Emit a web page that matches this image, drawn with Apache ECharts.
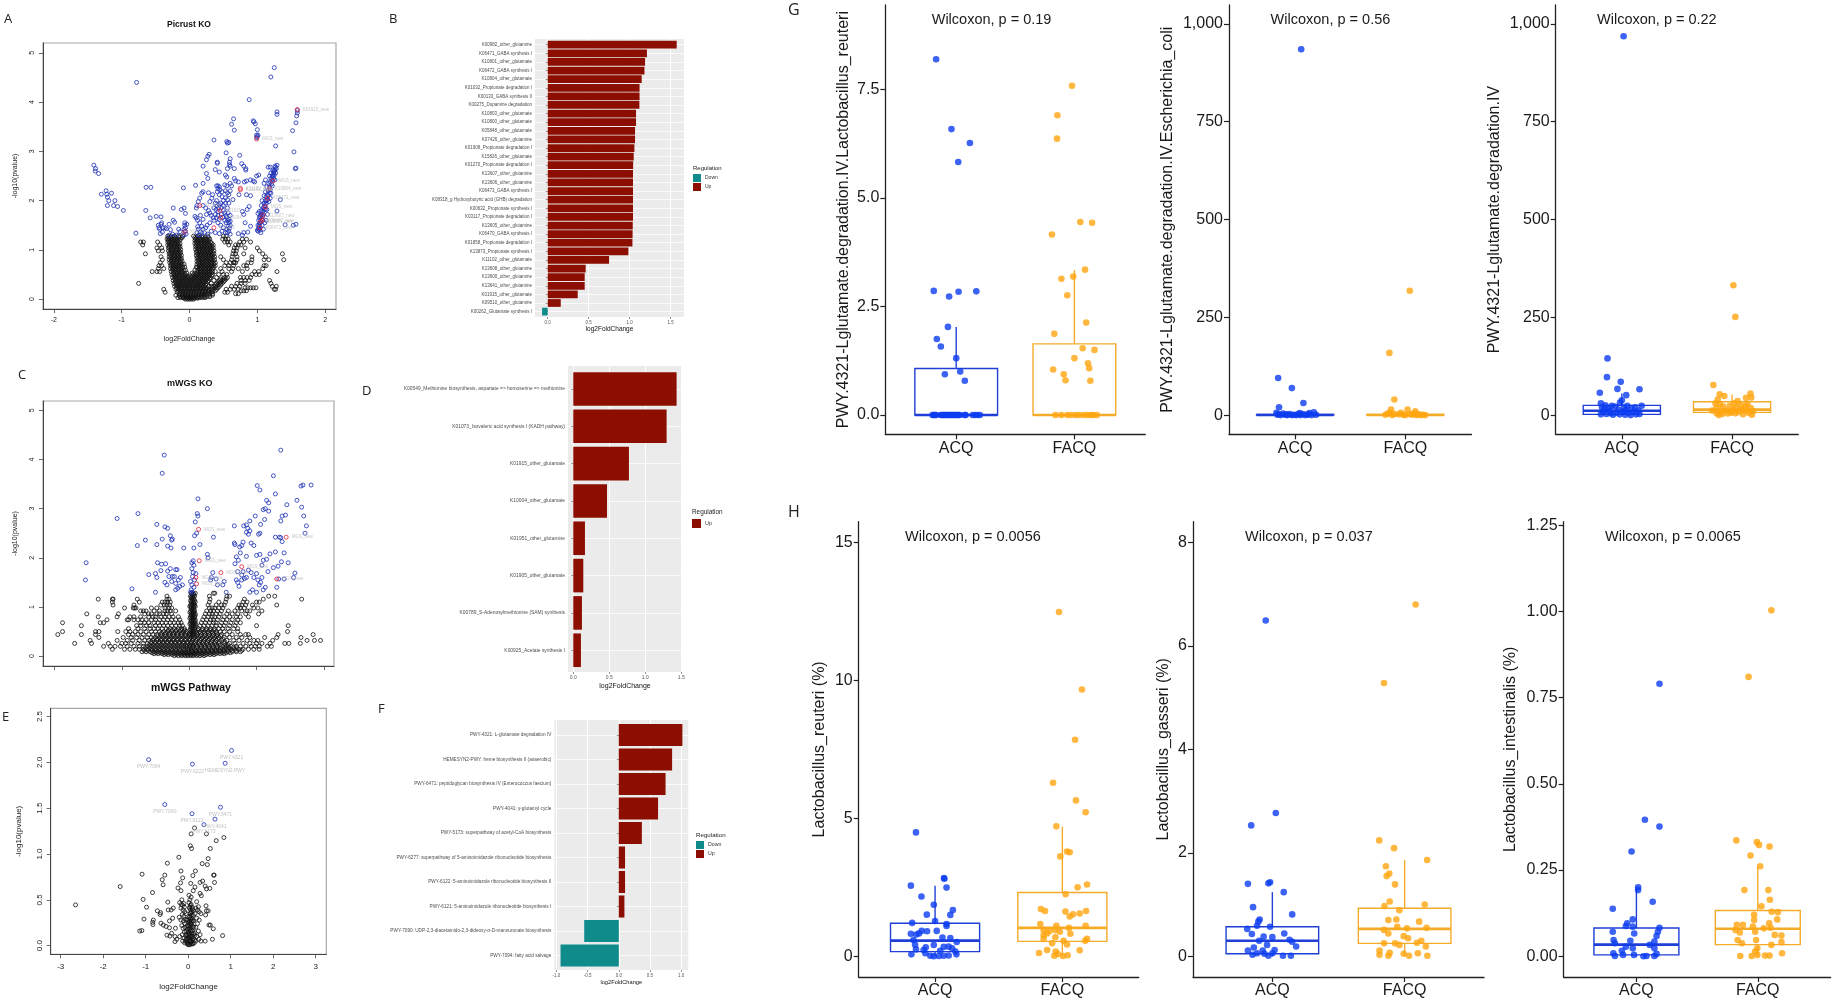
<!DOCTYPE html>
<html><head><meta charset="utf-8">
<style>html,body{margin:0;padding:0;background:#fff}#c{width:1834px;height:1004px}</style>
<script src="https://cdn.jsdelivr.net/npm/echarts@6/dist/echarts.min.js"></script>
</head><body><div id="c"></div>
<script>
// ---------- bar panels ----------
const bCats=["K00982_other_glutamine","K06471_GABA synthesis I","K10801_other_glutamate","K06472_GABA synthesis I","K10804_other_glutamate","K01032_Propionate degradation I","K00133_GABA synthesis II","K00275_Dopamine degradation","K10803_other_glutamate","K10800_other_glutamate","K05848_other_glutamate","K07426_other_glutamine","K01908_Propionate degradation I","K15826_other_glutamate","K01270_Propionate degradation I","K13607_other_glutamine","K13606_other_glutamine","K06473_GABA synthesis I","K08318_g Hydroxybutyric acid (GHB) degradation","K00632_Propionate synthesis I","K03117_Propionate degradation I","K13605_other_glutamine","K06470_GABA synthesis I","K01858_Propionate degradation I","K13873_Propionate synthesis I","K11102_other_glutamate","K13608_other_glutamine","K13600_other_glutamine","K13641_other_glutamine","K01915_other_glutamate","K09510_other_glutamine","K00262_Glutamate synthesis I"];
const bVals=[1.573,1.21,1.187,1.18,1.146,1.12,1.12,1.118,1.077,1.077,1.065,1.065,1.057,1.049,1.042,1.04,1.04,1.04,1.04,1.04,1.04,1.037,1.035,1.033,.984,.748,.463,.451,.451,.366,.159,-.069];
const dCats=["K00549_Methionine biosynthesis, aspartate => homoserine => methionine","K01073_Isovaleric acid synthesis I (KADH pathway)","K01915_other_glutamate","K10004_other_glutamate","K01951_other_glutamine","K01905_other_glutamate","K00789_S-Adenosylmethionine (SAM) synthesis","K00925_Acetate synthesis I"];
const dVals=[1.435,1.296,.773,.468,.162,.139,.12,.106];
const fCats=["PWY-4321: L-glutamate degradation IV","HEMESYN2-PWY: heme biosynthesis II (anaerobic)","PWY-6471: peptidoglycan biosynthesis IV (Enterococcus faecium)","PWY-4041: γ-glutamyl cycle","PWY-5173: superpathway of acetyl-CoA biosynthesis","PWY-6277: superpathway of 5-aminoimidazole ribonucleotide biosynthesis","PWY-6122: 5-aminoimidazole ribonucleotide biosynthesis II","PWY-6121: 5-aminoimidazole ribonucleotide biosynthesis I","PWY-7090: UDP-2,3-diacetamido-2,3-dideoxy-α-D-mannuronate biosynthesis","PWY-7094: fatty acid salvage"];
const fVals=[1.02,.855,.75,.63,.37,.1,.1,.09,-.555,-.935];

// ---------- volcano A (rows: y, then x values) ----------
const aBlackRows=[
[1.28,-.32,-.27,-.22,-.16,-.1,.06,.12,.19,.27,.5,.54],
[1.22,-.33,-.3,-.26,-.22,-.18,-.13,.09,.13,.17,.21,.25,.3,.49,.53,.57,.78,.84],
[1.16,-.72,-.68,-.32,-.29,-.25,-.21,-.17,-.47,.1,.14,.18,.22,.26,.31,.52,.56,.6,.74,.8,.9],
[1.1,-.69,-.44,-.32,-.28,-.24,-.2,-.16,.1,.14,.18,.22,.26,.3,.35,.58,.68,.72,.76],
[1.04,-.48,-.41,-.31,-.27,-.23,-.19,-.15,.11,.15,.19,.23,.27,.31,.35,.66,.7,.82,1.0],
[.98,-.46,-.4,-.31,-.27,-.23,-.19,-.15,.11,.15,.19,.23,.27,.31,.36,.65,.69,1.03],
[.92,-.65,-.3,-.26,-.22,-.18,-.14,.12,.16,.2,.24,.28,.32,.36,.64,.68,.8,1.08,1.37],
[.86,-.42,-.3,-.26,-.22,-.18,-.14,.12,.16,.2,.24,.28,.32,.37,.46,.63,.7,.92,1.12],
[.8,-.4,-.3,-.26,-.22,-.18,-.13,.13,.17,.21,.25,.29,.33,.37,.5,.62,.7,.92,1.1,1.17,1.39],
[.74,-.43,-.29,-.25,-.21,-.17,-.13,.13,.17,.21,.25,.29,.33,.38,.54,.6,.65,.66,.68,.86,.91],
[.68,-.45,-.41,-.28,-.24,-.2,-.16,-.12,.14,.18,.22,.26,.3,.34,.38,.52,.58,.65,.8,.84,1.1,1.13],
[.62,-.46,-.38,-.28,-.24,-.2,-.16,-.12,.14,.18,.22,.26,.3,.34,.46,.58,.64,.72,.85,1.08],
[.56,-.55,-.48,-.44,-.27,-.23,-.19,-.15,-.11,.14,.18,.22,.26,.3,.34,.38,.48,.62,.78,.96,1.02,1.29],
[.5,-.26,-.22,-.18,-.14,-.1,-.06,.06,.1,.14,.18,.22,.26,.3,.34,.43,.5,.55,.92,.98,1.03],
[.44,-.25,-.21,-.17,-.13,-.09,-.05,-.01,.03,.07,.11,.15,.19,.23,.27,.31,.4,.52,.56,.75,.8,.85,.9],
[.38,-.24,-.2,-.16,-.12,-.08,-.04,0,.04,.08,.12,.16,.2,.24,.28,.36,.44,.48,.52,.76,.82,.88,1.18],
[.32,-.75,-.23,-.19,-.15,-.11,-.07,-.03,.01,.05,.09,.13,.17,.21,.25,.32,.4,.44,.48,.7,.76,.82,1.2],
[.26,-.22,-.18,-.14,-.1,-.06,-.02,.02,.06,.1,.14,.18,.22,.28,.32,.36,.4,.44,.62,.68,.74,1.22,1.28],
[.2,-.38,-.2,-.16,-.12,-.08,-.04,0,.04,.08,.12,.16,.2,.24,.28,.32,.36,.4,.54,.6,.66,.72,1.25,1.27],
[.14,-.36,-.18,-.14,-.1,-.06,-.02,.02,.06,.1,.14,.18,.2,.24,.28,.32,.52,.56],
[.08,-.2,-.15,-.11,-.07,-.03,.01,.05,.09,.13,.17,.21,.25,.3,.34],
[.03,-.17,-.13,-.09,-.05,-.01,.03,.07,.11,.15,.19,.23],
[0,-.06,-.03,0,.03,.06]];
const aBlackFill=[
[1.25,-.31,-.28,-.24,-.2,-.15,-.11,.08,.11,.15,.19,.23,.28],
[1.19,-.31,-.27,-.23,-.19,-.15,.08,.12,.16,.2,.24,.28],
[1.13,-.3,-.26,-.22,-.18,-.14,.08,.12,.16,.2,.24,.28,.33],
[1.07,-.3,-.26,-.22,-.18,-.14,.09,.13,.17,.21,.25,.29,.33],
[1.01,-.29,-.25,-.21,-.17,-.13,.09,.13,.17,.21,.25,.29,.33],
[.95,-.29,-.25,-.21,-.17,-.13,.1,.14,.18,.22,.26,.3,.34],
[.89,-.28,-.24,-.2,-.16,-.12,.1,.14,.18,.22,.26,.3,.34],
[.83,-.28,-.24,-.2,-.16,-.12,.11,.15,.19,.23,.27,.31,.35],
[.77,-.27,-.23,-.19,-.15,-.11,.11,.15,.19,.23,.27,.31,.35],
[.71,-.27,-.23,-.19,-.15,-.11,-.08,.11,.15,.19,.23,.27,.31,.36],
[.65,-.26,-.22,-.18,-.14,-.1,-.07,.1,.12,.16,.2,.24,.28,.32,.36],
[.59,-.25,-.21,-.17,-.13,-.09,-.06,.08,.12,.16,.2,.24,.28,.32],
[.53,-.24,-.2,-.16,-.12,-.08,-.04,.04,.08,.12,.16,.2,.24,.28,.32],
[.47,-.23,-.19,-.15,-.11,-.07,-.03,.01,.05,.09,.13,.17,.21,.25,.29,.33],
[.41,-.22,-.18,-.14,-.1,-.06,-.02,.02,.06,.1,.14,.18,.22,.26,.3,.46,.5,.54],
[.35,-.21,-.17,-.13,-.09,-.05,-.01,.03,.07,.11,.15,.19,.23,.27,.42,.46,.5],
[.29,-.2,-.16,-.12,-.08,-.04,0,.04,.08,.12,.16,.2,.24,.38,.42,.46],
[.23,-.19,-.15,-.11,-.07,-.03,.01,.05,.09,.13,.17,.21,.25,.34,.38,.42,.82,.86,.9,.94,.98],
[.17,-.17,-.13,-.09,-.05,-.01,.03,.07,.11,.15,.19,.23,.27,.3,.34,.38,.76,.8,.84],
[.11,-.14,-.1,-.06,-.02,.02,.06,.1,.14,.18,.22,.26,.3,.34,.68,.72],
[.05,-.14,-.1,-.06,-.02,.02,.06,.1,.14,.18,.22,.26,.3],
[.02,-.08,-.04,0,.04,.08,.12]];
const aBlue=[[-1.41,2.72],[-1.385,2.65],[-1.39,2.6],[-1.34,2.55],[-1.3,2.13],[-1.23,2.2],[-1.22,2.13],[-1.21,2.07],[-1.19,2],[-1.15,2.15],[-1.21,1.9],[-1.12,1.9],[-1.1,2],[-1.06,1.88],[-.975,1.8],[-.78,4.4],[-.64,2.27],[-.57,2.27],[-.645,1.8],[-.58,1.65],[-.79,1.34],[-.49,1.68],[-.42,1.67],[-.24,1.85],[-.09,2.26],[-.12,1.82],[-.08,1.85],[-.06,1.74],[-.46,1.5],[-.44,1.42],[-.42,1.52],[-.41,1.55],[-.45,1.45],[-.39,1.45],[-.36,1.45],[-.4,1.36],[-.43,1.33],[-.34,1.43],[-.3,1.52],[-.28,1.41],[-.24,1.6],[-.22,1.56],[-.16,1.42],[-.14,1.37],[-.3,1.3],[-.25,1.32],[-.19,1.3],[-.07,1.55],[-.07,1.5],[-.06,1.45],[-.08,1.42],[-.06,1.38],[-.05,1.32],[-.08,1.3],[-.04,1.52],
[.88,4.05],[1.25,4.7],[1.2,4.51],[.65,3.66],[.62,3.55],[.66,3.43],[.94,3.62],[.95,3.6],[.97,3.56],[1,3.44],[.36,3.23],[.55,3.2],[.56,3.17],[.58,3.18],[.54,2.97],[.74,2.92],[.99,3.33],[1,3.3],[1.01,3.33],[.99,3.28],[1.27,3.11],[1.54,2.99],[1.52,3.42],[1.57,3.58],[1.58,3.72],[1.59,3.78],[1.59,3.83],[1.29,3.8],[1.29,3.75],[1.56,2.65],[1.57,2.66],[1.53,1.5],[1.57,1.52],[1.41,1.51],[1.34,2.02],[1.29,1.79],
[.29,2.94],[.27,2.9],[.25,2.83],[.2,2.7],[.41,2.78],[.41,2.76],[.6,2.85],[.59,2.78],[.59,2.73],[.6,2.7],[.66,2.65],[.56,2.65],[.38,2.63],[.44,2.58],[.77,2.75],[.8,2.7],[.83,2.65],[.83,2.62],[.25,2.55],[.27,2.45],[.53,2.52],[.55,2.48],[.99,2.5],[1.02,2.52],[.9,2.42],[.66,2.45],[.94,2.4],[.96,2.38],[.6,2.35],[.68,2.4],[.72,2.38],[.81,2.38],[.84,2.4],[.09,2.31],[.18,2.15],[.2,2.35],[.28,2.16],[.2,2.18],[.4,2.3],[.42,2.3],[.44,2.28],[.42,2.24],[.45,2.22],[.48,2.18],[.52,2.32],[.55,2.3],[.53,2.2],[.56,2.16],[.62,2.3],[.6,2.2],[.58,2.12],[.34,2.12],[.9,2.1],[.84,2.12],[.15,2.05],[.13,1.98],[.11,1.9],[.1,1.85],[.2,1.9],[.24,1.85],[.3,1.98],[.33,2.05],[.36,1.85],[.38,1.95],[.4,2],[.41,1.9],[.43,1.85],[.44,1.92],[.46,1.95],[.5,2],[.5,1.9],[.53,1.95],[.56,2.02],[.58,1.95],[.64,2.02],[.28,1.8],[.3,1.75],[.25,1.72],[.32,1.7],[.35,1.65],[.38,1.72],[.4,1.65],[.42,1.7],[.47,1.72],[.5,1.8],[.52,1.75],[.54,1.7],[.57,1.75],[.6,1.7],[.58,1.62],[.56,1.6],[.54,1.55],[.6,1.58],[.6,1.5],[.57,1.48],[.55,1.42],[.58,1.38],[.53,1.35],[.6,1.32],[.5,1.45],[.46,1.5],[.42,1.55],[.36,1.6],[.3,1.55],[.26,1.5],[.24,1.45],[.2,1.42],[.18,1.48],[.15,1.55],[.12,1.6],[.1,1.65],[.08,1.68],[.16,1.7],[.2,1.62],[.13,1.42],[.11,1.35],[.14,1.3],[.18,1.33],[.22,1.35],[.27,1.32],[.32,1.38],[.38,1.35],[.44,1.33],[.48,1.38],[.72,1.33],[.78,1.3],[.8,1.35],[.86,1.36],[.9,1.48],[.82,1.55],[.8,1.72],[.78,1.78],[.85,1.82],[.88,1.88],[.73,2.12],
[.59,1.44],[.56,1.35],[.58,1.55],[.52,1.6],[.55,1.66],[.56,1.85],[.49,1.66],[.44,1.62],[.42,1.78],[.39,1.82],[.47,1.86],[.53,2.06],[.48,2.08],[.44,2.12],[.41,2.18],[.12,1.47],[.16,1.37],
[1,1.4],[1.01,1.38],[1.02,1.44],[1.03,1.48],[1.01,1.5],[1.04,1.55],[1.02,1.6],[1.03,1.65],[1.05,1.7],[1.01,1.74],[1.03,1.78],[1.06,1.8],[1.08,1.78],[1.09,1.86],[1.06,1.9],[1.1,1.95],[1.07,2],[1.12,2],[1.13,2.08],[1.1,2.1],[1.15,2.12],[1.12,2.18],[1.16,2.2],[1.14,2.28],[1.18,2.28],[1.1,2.35],[1.12,2.42],[1.17,2.35],[1.19,2.38],[1.2,2.45],[1.18,2.5],[1.22,2.5],[1.24,2.55],[1.2,2.56],[1.25,2.6],[1.23,2.62],[1.27,2.68],[1.29,2.72],[1.26,2.7],[1.16,2.68],[1.19,2.68],[1.24,2.45],[1.06,1.62],[1.07,1.5],[1.08,1.68],[1.09,1.42],[1.04,1.4],[1.05,1.35],[1.11,1.55],[1.13,1.6],[1.15,1.72],[1.14,1.82],[1.17,1.98],[1.19,2.05],[1.2,2.15],[1.22,2.3],[1.26,2.42],
[1.02,1.42],[1.03,1.52],[1.05,1.58],[1.04,1.68],[1.06,1.72],[1.08,1.6],[1.09,1.72],[1.1,1.82],[1.11,1.9],[1.13,1.94],[1.12,1.82],[1.14,2],[1.15,2.02],[1.16,2.1],[1.18,2.16],[1.19,2.22],[1.21,2.34],[1.22,2.42],[1.23,2.5],[1.25,2.52],[1.24,2.58],[1.26,2.62],[1.27,2.56],[1.28,2.65]];
const aRed=[[1.59,3.85],[.99,3.25],[1.23,2.4],[1.18,2.25],[1.15,2.05],[1.12,1.87],[1.08,1.7],[1.07,1.6],[1.05,1.58],[1.04,1.45],[.75,2.22],[.75,2.25],[.45,1.8],[.46,1.66],[.15,1.9],[.36,1.45],[-.07,1.37]];
const aRedNames=["K01915_new","MGS_new","MGS_new","K10804_new","K06471_new","MGS_new","K13607_new","K06472_new","K13606_new","K06473_new","K11102_new","K11102_new","K01915","K10004","K01951","K01905","K00925"];

// ---------- volcano C ----------
const cBlackRows=[
[1.28,.03,.06,.09,.36,.38],[1.22,.02,.05,.08,-.33,.3,.56,.6,1.18,1.27],[1.16,-1.35,-1.14,-1.13,-.77,-.33,-.3,.04,.07,.31,.55,.82,1.1,1.67],
[1.1,-1.14,-.74,-.4,-.36,-.32,-.28,.03,.06,.09,.3,.44,.54,.8,.86,1,1.04],[1.04,-1.13,-.82,-.42,-.37,-.33,-.29,.02,.05,.08,.28,.4,.48,.52,.74,.78,.84,.94,1.3],
[.98,-.96,-.83,-.81,-.79,-.56,-.48,-.36,-.3,-.26,.03,.06,.3,.34,.38,.44,.5,.72,.76,.82,.96,1.02],[.92,-.72,-.68,-.64,-.52,-.44,-.36,-.32,-.28,-.2,.02,.05,.08,.26,.32,.36,.42,.48,.58,.68,.78,.86,.9,1.08],
[.86,-1.52,-1.05,-.66,-.6,-.56,-.48,-.44,-.38,-.34,-.26,.03,.06,.09,.24,.3,.34,.4,.46,.56,.64,.72,.84,1.03],[.8,-1.35,-1.07,-.88,-.82,-.72,-.6,-.54,-.5,-.42,-.36,-.3,-.24,-.16,.02,.05,.08,.22,.28,.34,.38,.44,.52,.6,.7,.76,.88],
[.74,-1.22,-.92,-.9,-.82,-.76,-.7,-.64,-.56,-.5,-.44,-.38,-.32,-.26,-.2,-.14,.03,.06,.09,.2,.26,.32,.36,.42,.5,.56,.64,.72],[.68,-1.88,-1.32,-1.27,-.72,-.66,-.6,-.52,-.46,-.4,-.34,-.28,-.22,-.16,-.12,.02,.05,.08,.18,.24,.3,.36,.4,.48,.54,.62,.7,.76],
[.62,-1.6,-.78,-.72,-.64,-.58,-.5,-.44,-.38,-.32,-.26,-.2,-.14,-.1,.03,.06,.09,.16,.22,.28,.34,.4,.46,.52,.6,.68,1,1.47],[.56,-.9,-.76,-.66,-.58,-.52,-.46,-.4,-.34,-.28,-.22,-.16,-.11,-.07,.02,.05,.08,.14,.2,.26,.32,.38,.44,.5,.58,.66,.72],
[.5,-1.88,-1.39,-1.34,-1.06,-.94,-.88,-.8,-.72,-.64,-.56,-.5,-.44,-.38,-.32,-.26,-.2,-.14,-.08,-.04,.03,.06,.1,.16,.22,.28,.34,.4,.46,.52,.6,.72,1.46],[.44,-1.95,-1.6,-1.39,-.9,-.84,-.76,-.68,-.6,-.54,-.48,-.42,-.36,-.3,-.24,-.18,-.12,-.06,0,.02,.05,.08,.12,.18,.24,.3,.36,.42,.48,.56,.64,.76,.84,.88,1.32,1.84],
[.38,-1.34,-.98,-.86,-.78,-.7,-.62,-.56,-.5,-.44,-.38,-.32,-.26,-.2,-.14,-.08,-.02,.03,.08,.14,.2,.26,.32,.38,.44,.52,.6,.7,.78,.9,1.12,1.3,1.66],[.32,-1.47,-1.07,-.92,-.84,-.74,-.66,-.6,-.54,-.48,-.42,-.36,-.3,-.24,-.18,-.12,-.06,0,.05,.1,.16,.22,.28,.34,.4,.48,.56,.66,.74,.86,.96,1.02,1.24,1.75,1.86,1.95],
[.26,-1.7,-1.45,-1.2,-1,-.94,-.86,-.76,-.68,-.62,-.56,-.5,-.44,-.38,-.32,-.26,-.2,-.14,-.08,-.02,.03,.08,.14,.2,.26,.32,.38,.44,.52,.6,.68,.8,.9,1,1.08,1.2,1.42,1.48,1.65],[.2,-1.27,-1.17,-1.1,-1.02,-.92,-.82,-.74,-.68,-.62,-.56,-.5,-.44,-.38,-.32,-.26,-.2,-.14,-.08,-.03,.02,.06,.12,.18,.24,.3,.36,.42,.5,.56,.62,.7,.76,.84,.92,.98,1.04,1.16,1.22],
[.14,-1.14,-.96,-.88,-.8,-.74,-.68,-.62,-.56,-.5,-.44,-.38,-.32,-.26,-.2,-.14,-.08,-.02,.03,.08,.14,.2,.26,.32,.38,.44,.5,.56,.62,.68,.74,.8,.88,.96,1.04],[.09,-.7,-.64,-.58,-.52,-.46,-.4,-.34,-.28,-.22,-.16,-.1,-.05,0,.05,.1,.16,.22,.28,.34,.4,.46,.52,.58,.64,.7,.76],
[.05,-.52,-.46,-.4,-.34,-.28,-.22,-.16,-.1,-.05,0,.05,.1,.16,.22,.28,.34,.4,.46,.52],[.01,-.22,-.16,-.11,-.06,-.02,.02,.06,.11,.16,.22]];
const cBlackFill=[
[1.25,.04,.07],[1.19,.03,.06],[1.13,.02,.05,.08],[1.07,.04,.07],[1.01,.01,.03,.07,.09],[.95,.04,.07],[.89,.01,.04,.07],[.83,.03,.06,.09],[.77,.01,.04,.07],[.71,.03,.06,.09],[.65,.01,.04,.07,.1],[.59,.03,.06,.09],
[.53,-.31,-.25,-.19,-.13,-.07,.01,.04,.07,.13,.19,.25,.31,.37],
[.47,-.41,-.35,-.29,-.23,-.17,-.11,-.05,.01,.04,.07,.11,.17,.23,.29,.35,.41],
[.41,-.47,-.41,-.35,-.29,-.23,-.17,-.11,-.05,.01,.05,.11,.17,.23,.29,.35,.41,.47],
[.35,-.53,-.47,-.41,-.35,-.29,-.23,-.17,-.11,-.05,.01,.06,.12,.18,.24,.3,.36,.42,.5],
[.29,-.57,-.51,-.45,-.39,-.33,-.27,-.21,-.15,-.09,-.03,.03,.09,.15,.21,.27,.33,.39,.45,.53],
[.23,-.59,-.53,-.47,-.41,-.35,-.29,-.23,-.17,-.11,-.05,.01,.05,.1,.16,.22,.28,.34,.4,.46,.54,.58],
[.17,-.65,-.59,-.53,-.47,-.41,-.35,-.29,-.23,-.17,-.11,-.05,0,.05,.11,.17,.23,.29,.35,.41,.47,.53,.59,.65,.71],
[.115,-.67,-.61,-.55,-.49,-.43,-.37,-.31,-.25,-.19,-.13,-.07,-.01,.04,.1,.16,.22,.28,.34,.4,.46,.52,.58,.64,.7,.78],
[.07,-.55,-.49,-.43,-.37,-.31,-.25,-.19,-.13,-.07,-.02,.03,.08,.13,.19,.25,.31,.37,.43,.49,.55,.61],
[.03,-.37,-.31,-.25,-.19,-.13,-.08,-.03,.03,.08,.13,.19,.25,.31,.37]];
const cBlue=[[-.37,4.09],[-.4,3.72],[1.36,4.19],[1.25,3.67],[1.01,3.47],[1.05,3.38],[1.28,3.3],[.13,3.2],[.27,3],[-.76,2.9],[-1.07,2.8],[.12,2.9],[.13,2.85],[.09,2.73],[-.48,2.68],[-.36,2.63],[-.32,2.6],[-.28,2.45],[-.26,2.36],[-.25,2.38],[-.65,2.36],[-.77,2.25],[-.48,2.27],[-.4,2.38],[-.32,2.24],[-.27,2.2],[-.08,2.2],[.07,2.2],[.08,2.45],[.11,2.5],[.16,2.27],[.27,2.07],[.28,2],[.36,2.42],[.67,2.65],[.67,2.3],[.68,2.27],[.75,2.22],[.78,2.25],[.8,2.32],[.81,2.65],[.85,2.67],[.87,2.6],[.9,2.75],[.85,2.52],[.88,2.48],[.9,2.55],[.92,2.3],[.96,2.25],[.98,2.85],[1.03,2.48],[1.05,2.5],[1.06,2.68],[1.1,2.98],[1.13,3],[1.15,3.17],[1.18,3.12],[1.18,2.95],[1.12,2.78],[1.36,2.41],[1.34,2.42],[1.38,2.33],[1.28,2.42],[1.36,2.75],[1.38,2.85],[1.43,2.87],[1.45,3.08],[1.6,3.17],[1.67,3.03],[1.66,3.46],[1.69,3.48],[1.81,3.48],[1.7,2.85],[1.74,2.65],[1.72,2.5],[1.05,2.07],[1,2.05],[1.08,1.85],[1.1,1.95],[1.15,1.97],[1.2,2.08],[1.28,2.12],[1.41,2.1],[1.37,1.92],[1.47,1.9],[1.32,1.83],[1.25,1.8],[1.17,1.72],[1.08,1.6],[1,1.68],[.96,1.6],[.92,1.7],[.88,1.75],[.85,1.6],[.8,1.72],[.72,1.72],[.68,1.88],[.7,2.02],[.76,2.1],[.85,2.03],[.73,1.95],[.78,1.65],[.82,1.58],[.7,1.55],[.72,1.5],[.74,1.42],[.78,1.55],[.9,1.3],[.94,1.35],[1,1.3],[1.02,1.55],[1.06,1.5],[1.04,1.45],[1.1,1.35],[1.13,1.4],[1.3,1.4],[1.33,1.57],[1.41,1.57],[1.55,1.6],[1.57,1.69],[.35,1.7],[.33,1.6],[.4,1.57],[.32,1.55],[.42,1.45],[.52,1.52],[.5,1.45],[.55,1.3],[.04,1.9],[.06,1.94],[.07,1.85],[.04,1.78],[.06,1.7],[.1,1.68],[.05,1.62],[.08,1.55],[.02,1.52],[.04,1.45],[.07,1.4],[.03,1.35],[.05,1.3],[.02,1.3],[-.47,1.9],[-.41,1.87],[-.35,1.88],[-.32,1.73],[-.28,1.78],[-.2,1.76],[-.18,1.76],[-.22,1.62],[-.25,1.62],[-.3,1.62],[-.42,1.74],[-.5,1.68],[-.6,1.66],[-.48,1.6],[-.36,1.5],[-.33,1.45],[-.26,1.52],[-.2,1.48],[-.16,1.55],[-.13,1.6],[-.1,1.45],[-.14,1.42],[-.17,1.38],[-.2,1.35],[-.85,1.37],[-.5,1.3],[-1.53,1.9],[-1.54,1.55]];
const cRed=[[.14,2.58],[1.44,2.42],[.15,1.94],[.47,1.7],[.78,1.82],[.1,1.6],[.11,1.47],[1.3,1.57]];
const cRedNames=["MGS_new","MGS_new","MGS_new","MGS_new","MGS_new","MGS_new","MGS_new","MGS_new"];

// ---------- volcano E ----------
const eBlack=[[.15,1.285],[.07,1.22],[.43,1.22],[.84,1.18],[.66,1.146],[.05,1.09],[.08,1.06],[.52,1.06],[-.22,.965],[.47,.95],[-.49,.9],[.33,.895],[.45,.885],[-.17,.815],[.17,.815],[-1.085,.78],[-.55,.77],[.11,.765],[.6,.77],[.61,.77],[-.61,.72],[-.13,.74],[-1.6,.645],[-.59,.665],[-.18,.685],[.06,.68],[.28,.69],[.34,.705],[.62,.69],[.4,.65],[.16,.64],[-.24,.63],[-.17,.6],[.12,.6],[.43,.62],[.51,.625],[-.84,.58],[.28,.57],[.31,.545],[.02,.55],[-1.06,.505],[.07,.53],[.04,.5],[-.15,.5],[-2.65,.445],[-.48,.475],[-.98,.42],[.42,.435],[-.725,.38],[-.65,.36],[-.66,.34],[-.47,.39],[-.4,.39],[-.35,.41],[-1.04,.29],[-.82,.28],[-.835,.255],[-.83,.23],[-1.14,.16],[-1.09,.165],[-.64,.245],[-.585,.225],[-.52,.21],[-.44,.27],[-.365,.3],[-.44,.195],[-.3,.19],[-.5,.115],[-.43,.105],[-.39,.135],[-.31,.1],[-.31,.045],[-.27,.07],[-.2,.1],[.81,.11],[.57,.07],[.4,.05],[.59,.185],[.49,.225],[.52,.225],[.43,.38],[.47,.38],[.41,.335],[.2,.48],[.24,.425],[.18,.41],[.22,.39],[.26,.37],[.3,.35],[.16,.35],[.2,.3],[.26,.28],[.22,.24],[.18,.2],[.24,.16],[.28,.12],[.25,.07],[.3,.05],[.2,.1],[.16,.14],
[-.2,.47],[-.16,.45],[-.13,.44],[-.1,.46],[-.17,.41],[-.12,.39],[-.09,.42],[-.08,.37],[-.14,.34],[-.1,.32],[-.21,.31],[-.17,.28],[-.11,.27],[-.08,.24],[-.15,.22],[-.12,.19],[-.07,.2],[-.09,.15],[-.14,.12],[-.06,.11],[-.1,.08],[-.05,.07],[-.13,.05],[-.08,.03],[-.03,.03],[-.05,.16],[-.04,.28],
[.02,.47],[.05,.44],[.07,.45],[.09,.42],[.03,.41],[.06,.39],[.08,.37],[.1,.4],[.05,.35],[.07,.33],[.03,.31],[.06,.29],[.09,.3],[.12,.33],[.13,.27],[.02,.26],[.05,.24],[.08,.23],[.11,.21],[.01,.21],[.04,.19],[.07,.17],[.1,.16],[.13,.13],[0,.15],[.03,.13],[.06,.11],[.09,.1],[.12,.08],[.15,.06],[0,.09],[.02,.07],[.05,.05],[.08,.04],[.11,.02],[-.01,.04],[.02,.02],[.04,.01],[0,.01],
[.04,.42],[.06,.36],[.04,.32],[.08,.27],[.04,.27],[.06,.25],[.03,.23],[.07,.21],[.02,.18],[.05,.16],[.08,.14],[.01,.12],[.04,.1],[.07,.08],[.1,.06],[.03,.05],[.06,.03],[.09,.02],[-.02,.02],[-.03,.07],[-.02,.12],[-.02,.18],[-.03,.22],[-.01,.28],[-.05,.35],[-.07,.29],[.11,.27],[.13,.2],[.15,.11],[.14,.03],[.18,.05],[.12,.38],[-.06,.05],[-.04,.12]];
const eBlue=[[1.02,2.13],[-.93,2.03],[.1,1.98],[.87,1.99],[-.55,1.54],[.76,1.51],[.09,1.44],[.63,1.38],[.37,1.32]];
const eBlueNames=["PWY.4321","PWY.7094","PWY.6222","HEMESYN2.PWY","PWY.7090","PWY.6471","PWY.6121","PWY.4041","PWY.5173"];

// ---------- box panels: points [x,y], boxes [x,low,q1,median,q3,high] ----------
const g1Acq=[[-.17,8.2],[-.04,6.59],[.116,6.27],[.017,5.83],[-.19,2.86],[-.06,2.73],[.02,2.84],[.17,2.85],[-.07,2.03],[-.164,1.75],[-.13,1.58],[0,1.31],[-.096,.94],[.034,1],[.073,.79],[-.2,0],[-.19,0],[-.18,0],[-.17,0],[-.13,0],[-.12,0],[-.11,0],[-.1,0],[-.09,0],[-.08,0],[-.07,0],[-.06,0],[-.05,0],[-.04,0],[-.03,0],[-.02,0],[-.01,0],[0,0],[.01,0],[.02,0],[.03,0],[.07,0],[.08,0],[.14,0],[.16,0],[.18,0],[.2,0]];
const g1Facq=[[.98,7.59],[.856,6.91],[.853,6.37],[1.05,4.45],[1.15,4.43],[.81,4.16],[1.09,3.35],[.99,3.19],[.89,3.14],[.94,2.76],[1.1,2.13],[.83,1.87],[1.07,1.54],[1.17,1.5],[1,1.31],[1.115,1.19],[1.125,1.08],[.82,1.05],[.91,.94],[.925,.8],[1.135,.79],[.84,0],[.89,0],[.94,0],[.97,0],[1.01,0],[1.04,0],[1.08,0],[1.11,0],[1.14,0],[1.16,0],[1.19,0]];
const g1Box=[[0,0,0,0,1.07,2.03],[1,0,0,0,1.64,3.34]];
const g2Acq=[[.055,935],[-.154,95],[-.03,69],[.075,31],[-.146,20],[-.17,6],[-.15,2],[-.13,0],[-.11,4],[-.09,1],[-.07,0],[-.05,3],[-.03,0],[-.01,1],[.01,0],[.03,2],[.05,0],[.07,3],[.09,0],[.11,1],[.13,5],[.15,0],[.17,7],[.19,1],[-.16,1],[-.08,2],[.04,5],[.12,2]];
const g2Facq=[[1.04,318],[.855,159],[.9,40],[.87,14],[1.02,14],[1.09,10],[.82,1],[.84,4],[.86,6],[.88,0],[.9,3],[.94,2],[.96,6],[.98,1],[1,0],[1.04,3],[1.06,1],[1.08,4],[1.1,0],[1.12,2],[1.14,0],[1.16,1],[1.18,0]];
const g2Box=[[0,0,0,.5,2,3],[1,0,0,.5,2,4]];
const g3Acq=[[.016,968],[-.13,145],[-.135,97],[-.01,85],[-.2,57],[-.04,67],[.16,66],[.04,51],[0,38],[-.016,32],[-.19,30],[.18,24],[-.18,20],[-.15,25],[-.12,18],[-.09,24],[-.06,22],[-.03,14],[.02,20],[.05,24],[.09,18],[.12,20],[.15,12],[-.19,2],[-.17,8],[-.14,3],[-.11,11],[-.08,1],[-.05,6],[-.02,2],[.01,9],[.03,1],[.06,6],[.08,0],[.11,8],[.13,2],[.16,3],[.04,13],[-.1,5],[-.16,14]];
const g3Facq=[[1.012,332],[1.03,251],[.83,77],[.888,53],[.93,49],[1.167,55],[1.127,44],[1.175,45],[.87,40],[.89,28],[.92,22],[.85,30],[.82,12],[.86,18],[.9,8],[.95,12],[.98,24],[1.02,30],[1.04,20],[1.06,8],[1.09,14],[1.12,22],[1.15,6],[1.17,18],[1.19,10],[.88,0],[.91,3],[.96,4],[.99,6],[1.01,14],[1.05,36],[1.08,26],[1.1,2],[1.14,28],[1.18,1],[1.03,5],[.86,5],[1.13,12]];
const g3Box=[[0,0,2,11,25,55],[1,0,7,14,34,53]];
const h1Acq=[[-.15,4.49],[.073,2.81],[.07,2.84],[-.19,2.56],[.09,2.49],[-.107,2.17],[-.01,1.87],[.14,1.68],[.12,1.5],[-.065,1.51],[0,1.28],[-.18,1.21],[.09,1.17],[.09,1.1],[-.105,.92],[-.063,.91],[.013,.92],[-.19,.82],[-.147,.79],[-.126,.83],[.058,.68],[.12,.66],[.17,.52],[-.17,.59],[-.157,.42],[-.01,.41],[-.073,.33],[.068,.34],[.107,.35],[.134,.29],[-.15,.25],[-.09,.23],[.04,.2],[.16,.17],[-.186,.07],[-.076,.11],[-.037,.02],[-.01,0],[.03,.01],[.068,.02],[.107,.03],[.168,.07]];
const h1Facq=[[.974,12.48],[1.154,9.67],[1.1,7.85],[.927,6.29],[1.107,5.65],[1.183,5.22],[.953,4.71],[1.037,3.8],[1.058,3.77],[.984,3.62],[1.194,2.6],[1.12,2.5],[1.026,2.25],[.832,1.71],[.864,1.64],[1.024,1.62],[1.186,1.64],[1.136,1.55],[1.084,1.52],[1.058,1.44],[.827,1.17],[.953,1.11],[1.183,1.11],[1.052,1.03],[.853,.95],[.9,.92],[.945,.95],[.98,.89],[1.063,.82],[.853,.77],[.88,.83],[.853,.63],[.945,.69],[1.194,.63],[1.18,.56],[.92,.47],[1.01,.56],[1.037,.43],[.817,.12],[.88,.23],[1.136,.22],[.948,.17],[.964,.08],[.937,.02],[1.005,.01],[1.042,.04]];
const h1Box=[[0,0,.17,.57,1.2,2.56],[1,0,.54,1.03,2.31,4.7]];
const h2Acq=[[-.05,6.49],[.026,2.77],[-.16,2.53],[-.017,1.43],[-.03,1.41],[-.185,1.4],[.086,1.24],[-.146,.95],[.15,.81],[-.096,.71],[-.106,.67],[-.116,.59],[-.19,.53],[-.017,.57],[.09,.44],[-.155,.43],[-.066,.38],[0,.37],[.13,.32],[.15,.28],[-.1,.3],[-.04,.22],[.18,.19],[-.14,.17],[-.185,.11],[.017,.12],[-.073,.11],[-.15,.03],[-.06,.05],[-.03,.01],[0,.06],[.08,.01],[.14,.01],[-.116,.06]];
const h2Facq=[[1.083,6.8],[.844,5.28],[.808,2.24],[.92,2.09],[1.17,1.86],[.858,1.74],[.884,1.6],[.864,1.55],[.927,1.39],[.887,1.06],[1.152,1],[.848,.97],[.96,.89],[1.11,.67],[.877,.7],[.937,.71],[1.166,.55],[1.017,.54],[.844,.51],[.944,.57],[.877,.44],[.993,.39],[1.026,.35],[1.093,.26],[1.126,.3],[.844,.25],[.927,.25],[.96,.22],[1.16,.19],[.81,.11],[.887,.07],[.81,.03],[.877,.01],[.993,.05],[1.033,.01],[1.1,.06],[1.172,.01]];
const h2Box=[[0,0,.05,.3,.57,1.24],[1,0,.25,.53,.93,1.86]];
const h3Acq=[[.19,.79],[.07,.396],[.19,.376],[-.04,.304],[.014,.2],[.014,.192],[.134,.158],[-.195,.138],[-.03,.107],[-.076,.096],[-.087,.088],[-.03,.086],[.19,.083],[-.195,.071],[.177,.071],[-.018,.066],[.166,.059],[-.188,.047],[-.05,.045],[-.177,.038],[.148,.043],[-.087,.028],[.11,.033],[-.03,.023],[.148,.023],[-.12,.016],[-.19,.009],[-.177,.001],[-.11,.004],[-.02,.004],[.058,0],[.083,.001],[.148,.001],[.166,.007]];
const h3Facq=[[1.112,1.003],[.924,.81],[.823,.336],[.993,.331],[1.01,.323],[1.097,.318],[.94,.292],[1.02,.261],[.89,.192],[1.087,.192],[1.1,.164],[1.03,.145],[1.115,.129],[1.166,.128],[.97,.12],[1.16,.107],[.97,.105],[.827,.091],[.877,.091],[1.094,.096],[.96,.086],[1.105,.083],[.816,.076],[1.05,.081],[.852,.069],[.978,.071],[1.14,.062],[1.195,.06],[.834,.047],[.986,.047],[.87,.038],[1.195,.041],[1.112,.033],[.996,.023],[.978,.014],[1.2,.009],[.856,.001],[.95,.001],[.996,.004],[1.06,.002],[1.097,.002]];
const h3Box=[[0,0,.004,.034,.082,.197],[1,0,.034,.08,.133,.26]];
const groupNames=["ACQ","FACQ"];
const comma=v=>v.toLocaleString('en-US');

// ---------- build ----------
const SANS='"Liberation Sans",Arial,sans-serif';
const grid=[],xAxis=[],yAxis=[],series=[],title=[],legend=[];
const flat=rows=>rows.flatMap(r=>r.slice(1).map(x=>[x,r[0]]));
function txt(t,l,tp,size,opt={}){title.push({text:t,left:l,top:tp,padding:0,textStyle:{fontFamily:opt.ff||SANS,fontSize:size,fontWeight:opt.w||'normal',color:opt.c||'#111'}});}
function addGrid(g){grid.push(g);return grid.length-1;}

function volcano(c){
  const gi=addGrid({left:c.l,top:c.t,width:c.w,height:c.h,show:true,borderColor:'#a8a8a8',borderWidth:1.2,backgroundColor:'#fff'});
  const ax={gridIndex:gi,type:'value',axisLine:{show:true,onZero:false,lineStyle:{color:'#444',width:1}},splitLine:{show:false},
    axisTick:{show:true,length:4,lineStyle:{color:'#444',width:.8}}};
  xAxis.push({...ax,min:c.x[0],max:c.x[1],name:c.xName||'',nameLocation:'middle',nameGap:c.xGap||26,nameTextStyle:{fontFamily:SANS,fontSize:c.fs,color:'#222'},
    axisTick:{...ax.axisTick,customValues:c.xTicks},axisLabel:c.xLabels===false?{show:false,customValues:c.xTicks}:{customValues:c.xTicks,fontFamily:SANS,fontSize:c.fs,color:'#222',margin:8,formatter:v=>String(v)}});
  yAxis.push({...ax,min:c.y[0],max:c.y[1],name:c.yName,nameLocation:'middle',nameGap:c.yGap||25,nameTextStyle:{fontFamily:SANS,fontSize:c.fs,color:'#222'},
    axisTick:{...ax.axisTick,customValues:c.yTicks},axisLabel:{customValues:c.yTicks,rotate:90,fontFamily:SANS,fontSize:c.fs,color:'#222',margin:7,formatter:c.yFmt||(v=>String(v))}});
  const base={type:'scatter',xAxisIndex:gi,yAxisIndex:gi,symbol:'circle',symbolSize:c.ss||4,animation:false,silent:true,large:false};
  const ring=col=>({color:'transparent',borderColor:col,borderWidth:1});
  series.push({...base,name:c.id+' n.s.',data:c.black,itemStyle:ring('#111')});
  series.push({...base,name:c.id+' sig',data:c.blue.map((p,i)=>c.blueNames?{value:p,name:c.blueNames[i]}:p),itemStyle:ring('#1c2fb5'),
    label:c.blueNames?{show:true,formatter:'{b}',position:'bottom',distance:2,fontFamily:SANS,fontSize:5,color:'#b0b0b0'}:{show:false}});
  if(c.red)series.push({...base,name:c.id+' highlight',data:c.red.map((p,i)=>({value:p,name:c.redNames[i]})),itemStyle:ring('#e0203a'),
    label:{show:true,formatter:'{b}',position:'right',distance:3,fontFamily:SANS,fontSize:4.5,color:'#b8b8b8'}});
}

function barPanel(c){
  const bg=addGrid({left:c.l,top:c.t,width:c.w,height:c.h,show:true,backgroundColor:'#ebebeb',borderWidth:0});
  xAxis.push({gridIndex:bg,type:'value',min:c.x[0],max:c.x[1],name:'log2FoldChange',nameLocation:'middle',nameGap:c.xGap,nameTextStyle:{fontFamily:SANS,fontSize:c.nfs,color:'#111'},
    axisLine:{show:false},axisTick:{show:true,length:2,customValues:c.ticks,lineStyle:{color:'#444',width:.6}},
    axisLabel:{customValues:c.ticks,fontFamily:SANS,fontSize:c.tfs,color:'#555',margin:3,formatter:v=>v.toFixed(1)},
    splitLine:{show:true,lineStyle:{color:'#fff',width:1}}});
  yAxis.push({gridIndex:bg,type:'value',min:0,max:1,show:false,splitLine:{show:false}});
  const gi=addGrid({left:c.l,top:c.bt,width:c.w,height:c.bh});
  xAxis.push({gridIndex:gi,type:'value',min:c.x[0],max:c.x[1],show:false,splitLine:{show:false}});
  yAxis.push({gridIndex:gi,type:'category',inverse:true,data:c.cats,axisLine:{show:false},
    axisTick:{show:true,length:2,alignWithLabel:true,lineStyle:{color:'#444',width:.6}},
    axisLabel:{fontFamily:SANS,fontSize:c.lfs,color:'#4d4d4d',margin:3,interval:0},
    splitLine:{show:true,alignWithLabel:true,lineStyle:{color:'#fff',width:.8}}});
  const bs={type:'bar',xAxisIndex:gi,yAxisIndex:gi,barWidth:'90%',barGap:'-100%',animation:false,silent:true};
  series.push({...bs,name:'Up',data:c.vals.map(v=>v>0?v:'-'),itemStyle:{color:'#8b0e00'}});
  if(c.vals.some(v=>v<0))series.push({...bs,name:'Down',data:c.vals.map(v=>v<0?v:'-'),itemStyle:{color:'#0f8b8b'}});
  legend.push({show:true,selectedMode:false,orient:'vertical',left:c.leg[0],top:c.leg[1],padding:0,itemWidth:c.leg[2],itemHeight:c.leg[2],itemGap:1,icon:'rect',data:c.vals.some(v=>v<0)?['Down','Up']:['Up'],
    textStyle:{fontFamily:SANS,fontSize:c.lfs+.5,color:'#333',padding:[0,0,0,-1]}});
  txt('Regulation',c.leg[0],c.leg[1]-c.lfs-4.5,c.lfs+1.5,{c:'#222'});
}

const BLUE='#0b3cf0',ORANGE='#ffa50f',BLUEL='#1f3fd6',ORANGEL='#f5ab2a';
function boxPanel(c){
  const gi=addGrid({left:c.l,top:c.t,width:c.w,height:c.h});
  xAxis.push({gridIndex:gi,type:'value',min:-.6,max:1.6,
    axisLine:{show:true,onZero:false,lineStyle:{color:'#222',width:1.3}},splitLine:{show:false},
    axisTick:{show:true,length:5,customValues:[0,1],lineStyle:{color:'#222',width:1.2}},
    axisLabel:{customValues:[0,1],fontFamily:SANS,fontSize:16,color:'#1a1a1a',margin:6,formatter:v=>groupNames[v]}});
  yAxis.push({gridIndex:gi,type:'value',min:c.y[0],max:c.y[1],name:c.name,nameLocation:'middle',nameGap:c.gap,
    nameTextStyle:{fontFamily:SANS,fontSize:16,color:'#1a1a1a'},
    axisLine:{show:true,onZero:false,lineStyle:{color:'#222',width:1.3}},splitLine:{show:false},
    axisTick:{show:true,length:5,customValues:c.ticks,lineStyle:{color:'#222',width:1.2}},
    axisLabel:{customValues:c.ticks,fontFamily:SANS,fontSize:16,color:'#1a1a1a',margin:6,formatter:c.fmt}});
  [[c.acq,c.box[0],BLUE,BLUEL,'ACQ'],[c.facq,c.box[1],ORANGE,ORANGEL,'FACQ']].forEach(([pts,bx,pc,lc,nm])=>{
    series.push({type:'custom',name:c.id+' '+nm+' box',xAxisIndex:gi,yAxisIndex:gi,animation:false,silent:true,z:2,clip:false,
      data:[bx],encode:{x:0,y:[1,2,3,4,5]},
      renderItem:(p,api)=>{
        const cx=api.value(0),hw=.35;
        const P=(x,y)=>api.coord([x,y]);
        const q1=api.value(2),md=api.value(3),q3=api.value(4),lo=api.value(1),hi=api.value(5);
        const a=P(cx-hw,q3),b=P(cx+hw,q1);
        const st={stroke:lc,fill:'none',lineWidth:1.4};
        const line=(p1,p2,w)=>({type:'line',shape:{x1:p1[0],y1:p1[1],x2:p2[0],y2:p2[1]},style:{stroke:lc,lineWidth:w}});
        return {type:'group',children:[
          {type:'rect',shape:{x:a[0],y:a[1],width:b[0]-a[0],height:b[1]-a[1]},style:st},
          line(P(cx,q3),P(cx,hi),1.4),line(P(cx,q1),P(cx,lo),1.4),
          line(P(cx-hw,md),P(cx+hw,md),2.6)]};
      }});
    series.push({type:'scatter',name:c.id+' '+nm,xAxisIndex:gi,yAxisIndex:gi,animation:false,silent:true,z:3,symbolSize:6.6,clip:false,data:pts,itemStyle:{color:pc}});
  });
  txt(c.p,c.pl,c.pt,14.5,{c:'#1a1a1a'});
}

volcano({id:'A',l:43,t:43,w:293,h:266,x:[-2.16,2.16],y:[-.2,5.2],xTicks:[-2,-1,0,1,2],yTicks:[0,1,2,3,4,5],xName:'log2FoldChange',yName:'-log10(pvalue)',fs:7,xGap:27,yGap:24,
  black:flat(aBlackRows).concat(flat(aBlackFill)),blue:aBlue,red:aRed,redNames:aRedNames});
volcano({id:'C',l:43,t:401,w:291,h:265,x:[-2.17,2.15],y:[-.2,5.19],xTicks:[-2,-1,0,1,2],yTicks:[0,1,2,3,4,5],xLabels:false,yName:'-log10(pvalue)',fs:7,yGap:24,
  black:flat(cBlackRows).concat(flat(cBlackFill)),blue:cBlue,red:cRed,redNames:cRedNames});
volcano({id:'E',l:50.7,t:708.3,w:275.6,h:246,x:[-3.235,3.25],y:[-.094,2.59],xTicks:[-3,-2,-1,0,1,2,3],yTicks:[0,.5,1,1.5,2,2.5],yFmt:v=>v.toFixed(1),xName:'log2FoldChange',yName:'-log10(pvalue)',fs:8,xGap:28,yGap:28,
  black:eBlack,blue:eBlue,blueNames:eBlueNames});

barPanel({l:535,t:39,w:149,h:278,bt:40.4,bh:275.5,x:[-.155,1.662],ticks:[0,.5,1,1.5],cats:bCats,vals:bVals,lfs:4.5,tfs:4.5,nfs:6.5,xGap:9,leg:[693,174,8]});
barPanel({l:568,t:366,w:114,h:306,bt:370.3,bh:298.6,x:[-.0736,1.51],ticks:[0,.5,1,1.5],cats:dCats,vals:dVals,lfs:4.9,tfs:5,nfs:7,xGap:11,leg:[692,519,9]});
barPanel({l:554.3,t:720,w:134,h:250,bt:722.75,bh:245,x:[-1.035,1.115],ticks:[-1,-.5,0,.5,1],cats:fCats,vals:fVals,lfs:4.7,tfs:4.5,nfs:5.7,xGap:9,leg:[696,841,8]});

const gY=v=>v.toFixed(1), lab=v=>comma(v);
boxPanel({id:'G1',l:885.3,t:5,w:260,h:429.3,y:[-.445,9.45],ticks:[0,2.5,5,7.5],fmt:gY,name:'PWY.4321-Lglutamate.degradation.IV.Lactobacillus_reuteri',gap:34,acq:g1Acq,facq:g1Facq,box:g1Box,p:'Wilcoxon, p = 0.19',pl:931.7,pt:12});
boxPanel({id:'G2',l:1229,t:5,w:242.5,h:429.3,y:[-49,1048],ticks:[0,250,500,750,1000],fmt:lab,name:'PWY.4321-Lglutamate.degradation.IV.Escherichia_coli',gap:53,acq:g2Acq,facq:g2Facq,box:g2Box,p:'Wilcoxon, p = 0.56',pl:1270.6,pt:12});
boxPanel({id:'G3',l:1555.7,t:5,w:242.5,h:429.3,y:[-49,1048],ticks:[0,250,500,750,1000],fmt:lab,name:'PWY.4321-Lglutamate.degradation.IV',gap:53,acq:g3Acq,facq:g3Facq,box:g3Box,p:'Wilcoxon, p = 0.22',pl:1597,pt:12});
boxPanel({id:'H1',l:858.7,t:521.7,w:280,h:455.3,y:[-.75,15.75],ticks:[0,5,10,15],fmt:v=>String(v),name:'Lactobacillus_reuteri (%)',gap:31,acq:h1Acq,facq:h1Facq,box:h1Box,p:'Wilcoxon, p = 0.0056',pl:905,pt:529});
boxPanel({id:'H2',l:1193,t:521.7,w:291,h:455.3,y:[-.4,8.4],ticks:[0,2,4,6,8],fmt:v=>String(v),name:'Lactobacillus_gasseri (%)',gap:21,acq:h2Acq,facq:h2Facq,box:h2Box,p:'Wilcoxon, p = 0.037',pl:1245,pt:529});
boxPanel({id:'H3',l:1563.6,t:521.7,w:267,h:455.3,y:[-.06,1.26],ticks:[0,.25,.5,.75,1,1.25],fmt:v=>v.toFixed(2),name:'Lactobacillus_intestinalis (%)',gap:45,acq:h3Acq,facq:h3Facq,box:h3Box,p:'Wilcoxon, p = 0.0065',pl:1605,pt:529});

// panel letters & titles
const LET='"Open Sans",sans-serif';
[['A',4,13],['B',389,13],['C',18,369],['D',362,385],['E',2,711],['F',378,703]].forEach(([t,l,tp])=>txt(t,l,tp,13,{ff:LET,c:'#222'}));
[['G',788,2],['H',788,504]].forEach(([t,l,tp])=>txt(t,l,tp,16,{ff:LET,c:'#222'}));
txt('Picrust KO',167,20,8.5,{w:'bold'});
txt('mWGS KO',167,379,9,{w:'bold'});
txt('mWGS Pathway',151,683,10.5,{w:'bold'});

const chart=echarts.init(document.getElementById('c'),null,{renderer:'canvas'});
chart.setOption({animation:false,backgroundColor:'#fff',title,legend,grid,xAxis,yAxis,series,tooltip:{show:false}});
</script></body></html>
